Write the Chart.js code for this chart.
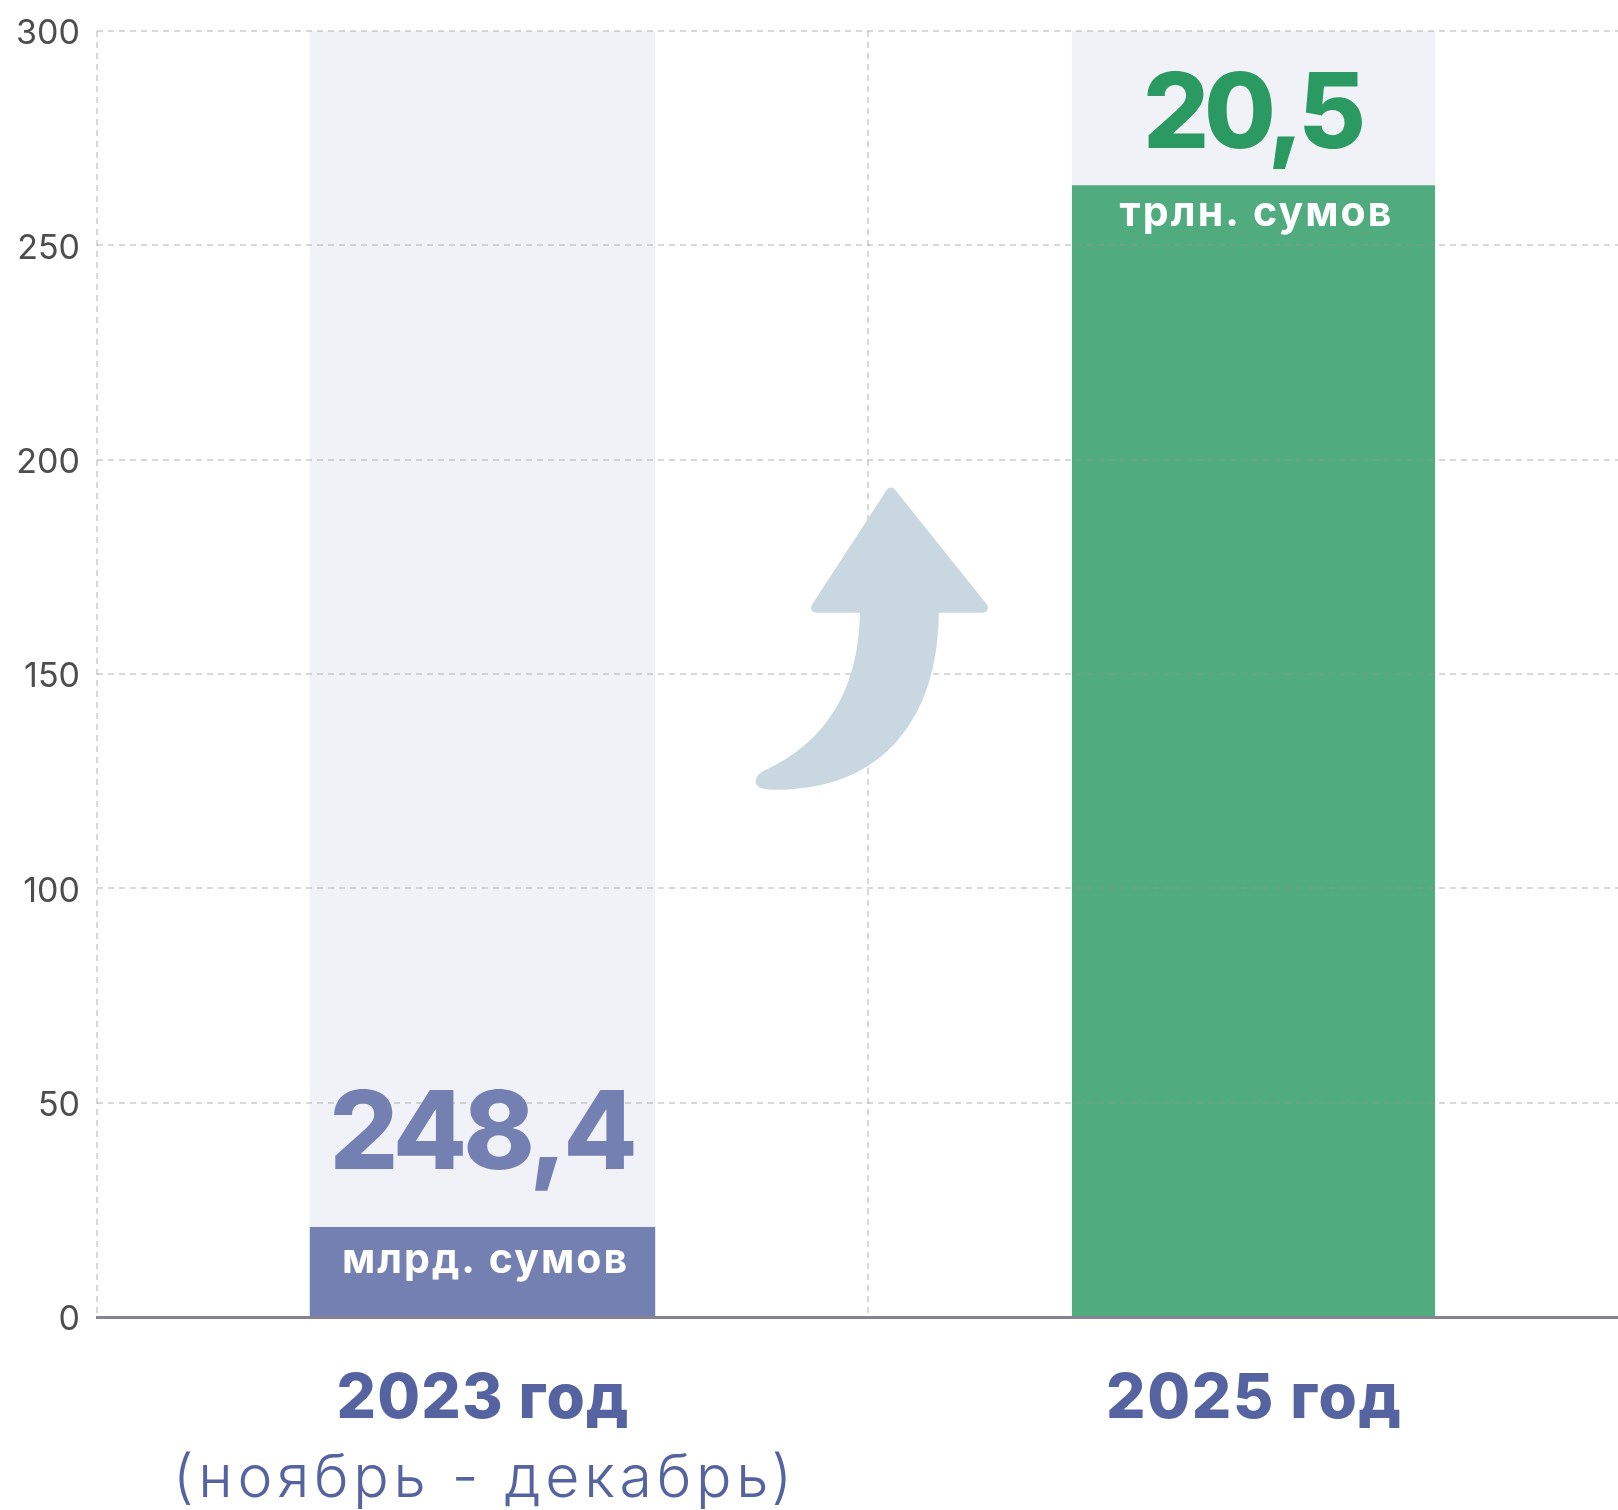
<!DOCTYPE html>
<html lang="ru">
<head>
<meta charset="utf-8">
<title>Рост объёма</title>
<script src="https://cdn.jsdelivr.net/npm/chart.js@4.4.1/dist/chart.umd.min.js"></script>
<style>
  html, body { margin: 0; padding: 0; background: #fff; overflow: hidden; }
  .chart-box { position: relative; width: 1639px; height: 1510px; }
</style>
</head>
<body>
<div class="chart-box"><canvas id="growthChart"></canvas></div>
<script>
const categories = ["2023 год", "2025 год"];
const subLabels = ["(ноябрь - декабрь)", ""];
const barValues = [21, 264];
const trackValues = [300, 300];
const valueLabels = ["248,4", "20,5"];
const unitLabels = ["млрд. сумов", "трлн. сумов"];
const yTicks = [0, 50, 100, 150, 200, 250, 300];

const barColors = ["#7480b2", "#50ab7f"];
const valueColors = ["#7480b2", "#2a9a62"];
const barWidths = [0.448, 0.471];
const gridColor = "rgba(150,150,150,0.36)";
const labelColor = "#5563a0";

// one pair of datasets per category so each bar can keep its own width
const datasets = [];
categories.forEach((cat, i) => {
  const only = (arr) => categories.map((_, j) => (j === i ? arr[i] : null));
  datasets.push({
    label: cat,
    data: only(barValues),
    backgroundColor: barColors[i],
    barPercentage: barWidths[i],
    categoryPercentage: 1,
    order: 1
  });
  datasets.push({
    label: cat + " фон",
    data: only(trackValues),
    backgroundColor: "#f0f2f7",
    barPercentage: barWidths[i],
    categoryPercentage: 1,
    order: 2
  });
});

function fittedText(ctx, text, cx, baseline, font, color, width) {
  ctx.save();
  ctx.font = font;
  ctx.letterSpacing = "0px";
  const natural = ctx.measureText(text).width;
  const extra = (width - natural) / Math.max(text.length - 1, 1);
  ctx.letterSpacing = extra.toFixed(2) + "px";
  ctx.fillStyle = color;
  ctx.textAlign = "left";
  ctx.textBaseline = "alphabetic";
  ctx.fillText(text, cx - width / 2, baseline);
  ctx.restore();
}

const arrowPlugin = {
  id: "growthArrow",
  afterDraw(chart) {
    const { ctx, scales: { x, y } } = chart;
    const mid = (x.getPixelForValue(0) + x.getPixelForValue(1)) / 2;
    const tipY = y.getPixelForValue(193.5);
    const baseY = y.getPixelForValue(164.3);
    const tailY = y.getPixelForValue(123);
    ctx.save();
    ctx.fillStyle = "#c8d7e0";
    ctx.strokeStyle = "#c8d7e0";
    ctx.lineWidth = 10;
    ctx.lineJoin = "round";
    ctx.beginPath();
    ctx.moveTo(mid + 23, tipY + 5);
    ctx.lineTo(mid + 115, baseY - 5);
    ctx.lineTo(mid + 66, baseY - 5);
    ctx.bezierCurveTo(mid + 66, baseY + 104, mid + 12, tailY - 5, mid - 94, tailY - 5);
    ctx.quadraticCurveTo(mid - 115, tailY - 5, mid - 103, tailY - 14);
    ctx.bezierCurveTo(mid - 37, tailY - 44, mid - 3, baseY + 76, mid - 3, baseY - 5);
    ctx.lineTo(mid - 52, baseY - 5);
    ctx.closePath();
    ctx.fill();
    ctx.stroke();
    ctx.restore();
  }
};

const textPlugin = {
  id: "barTexts",
  afterDraw(chart) {
    const { ctx, scales: { x, y } } = chart;
    const zero = y.getPixelForValue(0);
    const valueGap = [58, 37];
    const unitGap = [46, 41];
    const valueFont = ["800 108px Inter", "800 104px Inter"];
    const valueWidth = [308, 223];
    const unitWidth = [285, 272];
    const catWidth = [292, 295];
    categories.forEach((cat, i) => {
      const cx = x.getPixelForValue(i);
      const top = y.getPixelForValue(barValues[i]);
      fittedText(ctx, valueLabels[i], cx + 1, top - valueGap[i], valueFont[i], valueColors[i], valueWidth[i]);
      fittedText(ctx, unitLabels[i], cx + 2, top + unitGap[i], "700 41px Inter", "#ffffff", unitWidth[i]);
      fittedText(ctx, cat, cx, zero + 101, "800 62px Inter", labelColor, catWidth[i]);
      if (subLabels[i]) {
        fittedText(ctx, subLabels[i], cx, zero + 180, "300 59px Inter", labelColor, 619);
      }
    });
  }
};

const canvas = document.getElementById("growthChart");

new Chart(canvas.getContext("2d"), {
  type: "bar",
  data: { labels: categories, datasets },
  options: {
    responsive: true,
    maintainAspectRatio: false,
    animation: false,
    layout: { padding: { top: 31, right: 0, bottom: 0, left: 0 } },
    plugins: {
      legend: { display: false },
      tooltip: { enabled: false }
    },
    datasets: { bar: { grouped: false, skipNull: true } },
    scales: {
      x: {
        offset: true,
        ticks: { display: false },
        grid: { offset: true, color: gridColor, lineWidth: 2, drawTicks: false, z: 1 },
        border: { display: true, color: "#858393", width: 3, dash: [6, 5], z: 2 },
        afterFit(scale) { scale.height = 193; }
      },
      y: {
        min: 0,
        max: 300,
        afterBuildTicks(scale) { scale.ticks = yTicks.map((v) => ({ value: v })); },
        ticks: {
          color: "#4d4d4d",
          padding: 17,
          labelOffset: 3,
          font: { family: "Inter", size: 34 }
        },
        grid: { color: gridColor, lineWidth: 2, drawTicks: false, z: 1 },
        border: { display: false, dash: [6, 5] },
        afterFit(scale) {
          scale.width = 97;
          scale.paddingTop = 0;
          scale.paddingBottom = 0;
        }
      }
    }
  },
  plugins: [arrowPlugin, textPlugin]
});
</script>
</body>
</html>
